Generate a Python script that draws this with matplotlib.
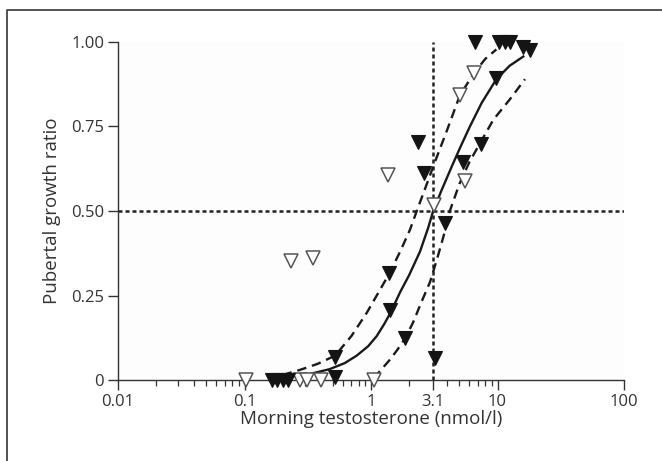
import matplotlib
matplotlib.use('Agg')
import matplotlib.pyplot as plt
from matplotlib.lines import Line2D

plt.rcParams['font.family'] = ['Open Sans', 'DejaVu Sans']

# filled triangles (black)
filled_x = [0.165, 0.18, 0.2, 0.22, 0.52, 0.52, 1.41, 1.40, 1.86, 3.2, 3.84,
            2.36, 2.62, 5.3, 7.4, 9.8, 6.6, 10.2, 11.4, 12.5, 16.0, 18.0]
filled_y = [0.0, 0.0, 0.0, 0.0, 0.01, 0.068, 0.207, 0.316, 0.123, 0.064, 0.464,
            0.705, 0.613, 0.645, 0.698, 0.893, 1.0, 1.0, 1.0, 1.0, 0.985, 0.975]

# open triangles
open_x = [0.103, 0.233, 0.348, 0.275, 0.31, 0.40, 1.05, 1.37, 3.15, 5.5, 5.05, 6.5]
open_y = [0.0, 0.352, 0.362, 0.0, 0.0, 0.0, 0.0, 0.607, 0.518, 0.59, 0.843, 0.907]

# fitted curve and its bounds
fit_x = [0.19, 0.25, 0.33, 0.47, 0.62, 0.77, 0.95, 1.11, 1.27, 1.43, 1.7, 2.0,
         2.44, 2.83, 3.1, 3.6, 4.33, 5.1, 6.05, 7.5, 9.8, 12.5, 16.0]
fit_y = [0.008, 0.012, 0.018, 0.032, 0.05, 0.072, 0.1, 0.13, 0.165, 0.2, 0.26, 0.31,
         0.38, 0.45, 0.5, 0.56, 0.63, 0.69, 0.75, 0.82, 0.89, 0.93, 0.957]

upper_x = [0.2, 0.275, 0.38, 0.52, 0.7, 0.93, 1.15, 1.4, 1.7, 2.03, 2.3, 2.7,
           3.2, 4.0, 5.05, 6.5, 8.0, 9.8]
upper_y = [0.015, 0.03, 0.048, 0.072, 0.13, 0.2, 0.26, 0.316, 0.38, 0.444, 0.5, 0.57,
           0.645, 0.74, 0.843, 0.907, 0.95, 0.978]

lower_x = [1.05, 1.2, 1.41, 1.62, 1.86, 2.15, 2.5, 2.93, 3.4, 3.84, 4.2, 5.0,
           6.0, 7.26, 9.27, 12.5, 16.5]
lower_y = [0.005, 0.03, 0.06, 0.09, 0.123, 0.17, 0.23, 0.29, 0.37, 0.44, 0.5, 0.58,
           0.645, 0.70, 0.77, 0.83, 0.89]

threshold_x = 3.1
threshold_y = 0.5

x_ticks = [0.01, 0.1, 1, 3.1, 10, 100]
x_ticklabels = ['0.01', '0.1', '1', '3.1', '10', '100']
x_minor = [0.02, 0.03, 0.04, 0.05, 0.06, 0.07, 0.08, 0.09,
           0.2, 0.3, 0.4, 0.5, 0.6, 0.7, 0.8, 0.9,
           2, 4, 5, 6, 7, 8, 9]
y_ticks = [0, 0.25, 0.5, 0.75, 1.0]
y_ticklabels = ['0', '0.25', '0.50', '0.75', '1.00']

txt = '#333333'

fig = plt.figure(figsize=(6.62, 4.61), dpi=100)
ax = fig.add_axes([118/662, 1-380/461, (624-118)/662, (380-42)/461])

# reference lines
ax.axhline(threshold_y, color='#222222', lw=1.8, ls=(0, (1.6, 1.2)), zorder=1)
ax.plot([threshold_x, threshold_x], [0, 1.0], color='#222222', lw=1.8,
        ls=(0, (1.6, 1.2)), zorder=1)

ax.plot(fit_x, fit_y, color='#1a1a1a', lw=1.7, zorder=2)
ax.plot(upper_x, upper_y, color='#1a1a1a', lw=1.7, ls=(0, (4, 2.5)), zorder=2)
ax.plot(lower_x, lower_y, color='#1a1a1a', lw=1.7, ls=(0, (4, 2.5)), zorder=2)

ax.plot(open_x, open_y, 'v', ms=9.5, mfc='white', mec='#555555', mew=1.1,
        ls='none', zorder=3, clip_on=False)
ax.plot(filled_x, filled_y, 'v', ms=9.5, mfc='#141414', mec='#141414', mew=0.8,
        ls='none', zorder=4, clip_on=False)

ax.set_xscale('log')
ax.set_xlim(0.01, 100)
ax.set_ylim(0, 1.0)
ax.set_xticks(x_ticks)
ax.set_xticklabels(x_ticklabels)
ax.set_xticks(x_minor, minor=True)
ax.set_xticklabels([], minor=True)
ax.set_yticks(y_ticks)
ax.set_yticklabels(y_ticklabels)

for s in ['top', 'right']:
    ax.spines[s].set_visible(False)
for s in ['left', 'bottom']:
    ax.spines[s].set_color('#333333')
    ax.spines[s].set_linewidth(1.0)
ax.tick_params(axis='both', which='major', direction='out', length=7, width=1.0,
               color='#333333', labelcolor=txt, labelsize=12, pad=3)
ax.tick_params(axis='x', which='minor', direction='out', length=4, width=0.9,
               color='#333333')
ax.set_facecolor('#fdfdfd')

ax.set_xlabel('Morning testosterone (nmol/l)', fontsize=13.5, color=txt, labelpad=0)
ax.set_ylabel('Pubertal growth ratio', fontsize=13.5, color=txt, labelpad=7)

# partial frame round the figure (left and top edges)
fig.add_artist(Line2D([7/662, 7/662, 1.0], [0.0, 1-10/461, 1-10/461],
                      transform=fig.transFigure, color='#444444', lw=1.3))

fig.savefig('out.png', dpi=100)
